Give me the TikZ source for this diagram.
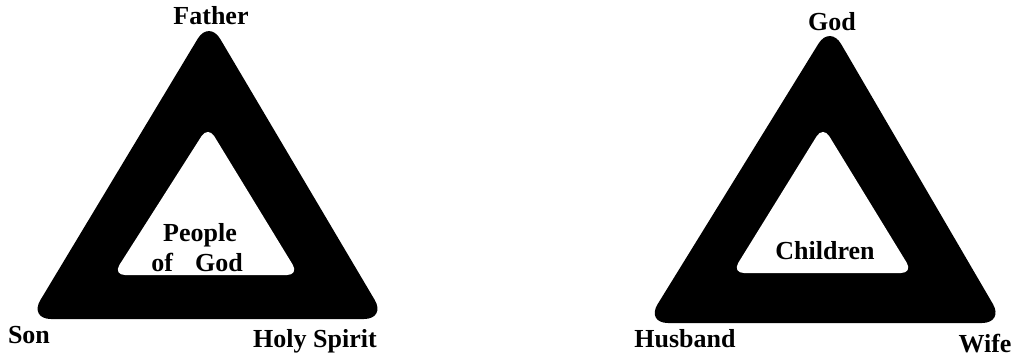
\documentclass[tikz,border=0pt]{standalone}
\usepackage{fontspec}
\setmainfont{Liberation Serif}
\begin{document}
\begin{tikzpicture}[x=1pt,y=-1pt,
  lbl/.style={font=\bfseries\fontsize{26}{30}\selectfont, anchor=base, inner sep=0pt},
  outertri/.style={fill=black, rounded corners=22pt},
  innertri/.style={fill=white, rounded corners=12pt}]
\useasboundingbox (0,0) rectangle (1018,357);
% left triangle
\fill[outertri] (209,20) -- (386,319) -- (29,319) -- cycle;
\fill[innertri] (208,126) -- (299,275) -- (113,275) -- cycle;
% right triangle
\fill[outertri] (830,25) -- (1004,323) -- (646,323) -- cycle;
\fill[innertri] (823,126) -- (913,273) -- (732,273) -- cycle;
% labels
\node[lbl] (father) at (211,24) {Father};
\node[lbl] (son) at (29,343) {Son};
\node[lbl] (holy) at (315,347) {Holy Spirit};
\node[lbl] (people) at (200,241) {People};
\node[lbl] (ofgod) at (197,271) {of\hspace{0.6em} God};
\node[lbl] (god) at (832,30) {God};
\node[lbl] (husband) at (685,347) {Husband};
\node[lbl] (wife) at (985,352) {Wife};
\node[lbl] (children) at (825,259) {Children};
\end{tikzpicture}
\end{document}
